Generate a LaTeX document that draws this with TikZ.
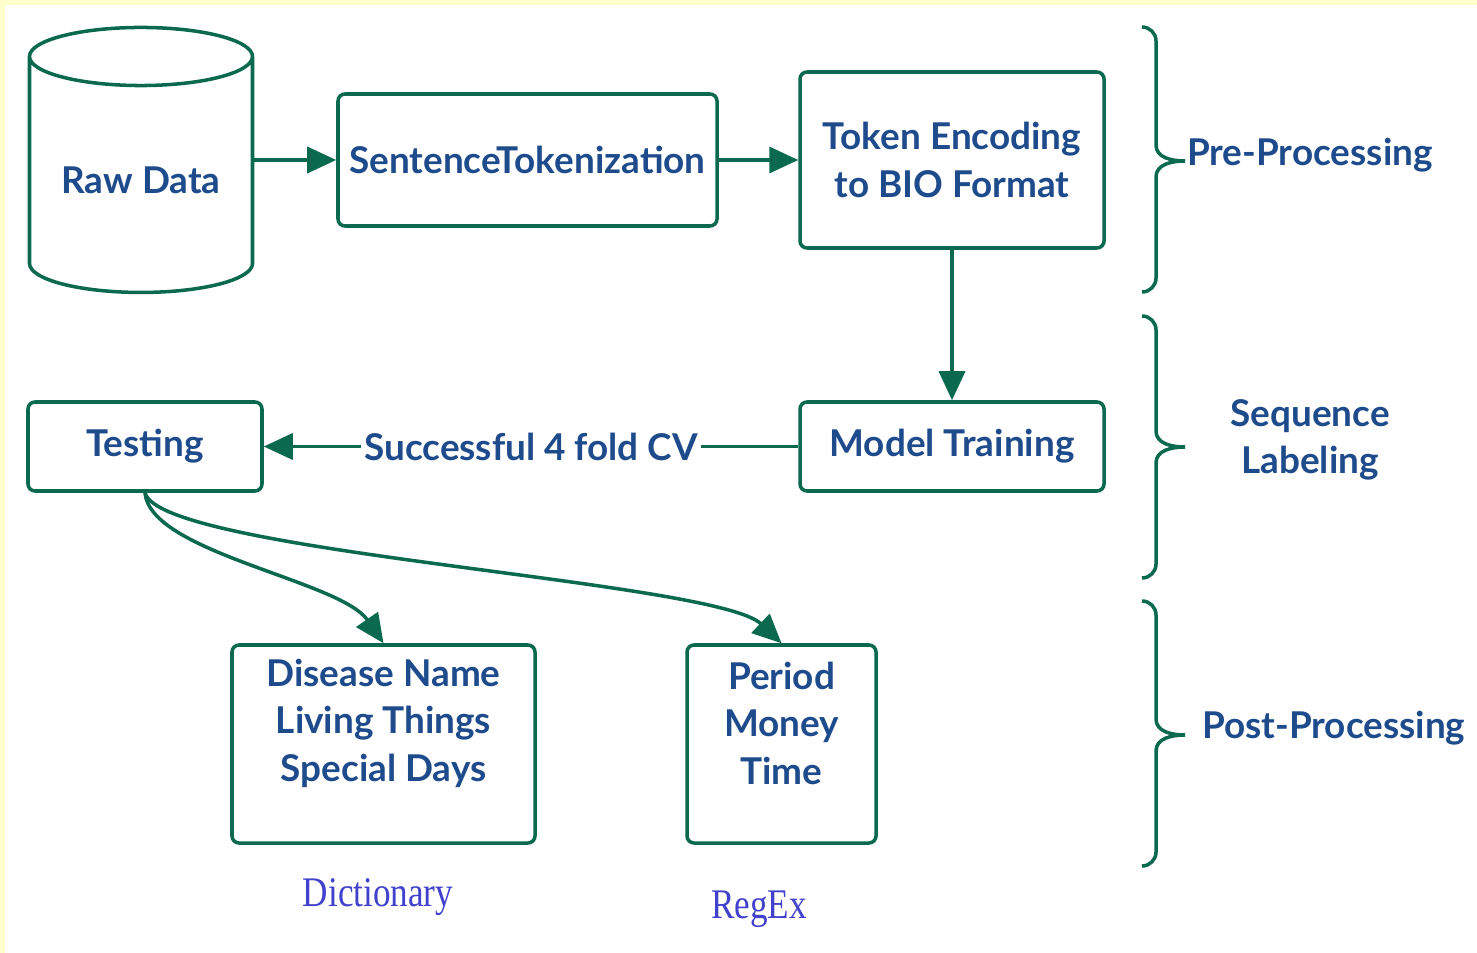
\documentclass[tikz,border=0pt]{standalone}
\usepackage{fontspec}
\setmainfont{Lato}
\newfontfamily\notefont{Liberation Serif}
\usetikzlibrary{shapes.geometric,arrows.meta,positioning}
\definecolor{flowgreen}{RGB}{10,105,78}
\definecolor{flowblue}{RGB}{30,75,140}
\definecolor{noteblue}{RGB}{65,65,205}
\definecolor{paleyellow}{RGB}{255,255,204}

\begin{document}
\begin{tikzpicture}[
    stepbox/.style={rectangle, draw=flowgreen, line width=2pt, fill=white,
        rounded corners=4pt, font=\fontsize{21}{27}\selectfont\bfseries,
        text=flowblue, align=center, inner sep=2pt},
    lbl/.style={font=\fontsize{21}{27}\selectfont\bfseries, text=flowblue,
        align=center, inner sep=1pt},
    note/.style={font=\fontsize{20}{24}\selectfont\notefont, text=noteblue},
    arr/.style={-{Triangle[length=0.58cm,width=0.52cm]}, line width=2pt, flowgreen},
    brace/.style={line width=2pt, flowgreen}
]
    \useasboundingbox (0,0) rectangle (29.54,-19.06);
    \fill[paleyellow] (0,0) rectangle (29.54,-19.06);
    \fill[white] (0.1,-0.1) rectangle (29.54,-19.06);

    % pre-processing
    \node[cylinder, shape border rotate=90, aspect=0.34, draw=flowgreen, line width=2pt,
        minimum width=4.46cm, minimum height=5.3cm, text=flowblue,
        font=\fontsize{21}{27}\selectfont\bfseries] (raw) at (2.82,-3.6) {Raw Data};
    \node[stepbox, minimum width=7.58cm, minimum height=2.64cm] (sent) at (10.55,-3.2)
        {SentenceTokenization};
    \node[stepbox, minimum width=6.08cm, minimum height=3.52cm] (token) at (19.04,-3.2)
        {Token Encoding\\to BIO Format};

    % sequence labeling
    \node[stepbox, minimum width=6.08cm, minimum height=1.78cm] (model) at (19.04,-8.93)
        {Model Training};
    \node[stepbox, minimum width=4.68cm, minimum height=1.78cm] (test) at (2.9,-8.93)
        {Testing};

    % post-processing
    \node[stepbox, minimum width=6.06cm, minimum height=3.96cm] (dictbox) at (7.67,-14.88) {};
    \node[lbl] (dicttext) at (7.67,-14.46) {Disease Name\\Living Things\\Special Days};
    \node[stepbox, minimum width=3.78cm, minimum height=3.96cm] (regexbox) at (15.63,-14.88) {};
    \node[lbl] (regextext) at (15.63,-14.46) {Period\\Money\\Time};
    \node[note] (dictnote) at (7.56,-17.94) {\scalebox{1}[1.2]{Dictionary}};
    \node[note] (regexnote) at (15.18,-18.18) {\scalebox{1}[1.2]{RegEx}};

    \draw[arr] (raw.east |- sent.west) -- (sent.west);
    \draw[arr] (sent) -- (token);
    \draw[arr] (token) -- (model);
    \draw[arr] (model) -- node[lbl, fill=white, inner xsep=2pt] (cvlabel)
        {Successful 4 fold CV} (test);
    \draw[arr] (test.south) .. controls +(0.1,-1.2) and +(-0.87,1.26) .. (dictbox.north);
    \draw[arr] (test.south) .. controls +(0.3,-1.2) and +(-1.33,1.26) .. (regexbox.north);

    % stages
    \foreach \ytop/\ytip/\ybot in {-0.54/-3.22/-5.84, -6.32/-8.94/-11.56, -12.02/-14.7/-17.32}
        \draw[brace] (22.84,\ytop) to[out=0,in=90] (23.12,\ytop-0.28)
            -- (23.12,\ytip+0.32) to[out=-90,in=180] (23.7,\ytip)
            to[out=180,in=90] (23.12,\ytip-0.32) -- (23.12,\ybot+0.28)
            to[out=-90,in=0] (22.84,\ybot);
    \node[lbl, anchor=west] (preproc) at (23.7,-3.1) {Pre-Processing};
    \node[lbl] (seqlab) at (26.2,-8.8) {Sequence\\Labeling};
    \node[lbl, anchor=west] (postproc) at (24.0,-14.56) {Post-Processing};
\end{tikzpicture}
\end{document}
